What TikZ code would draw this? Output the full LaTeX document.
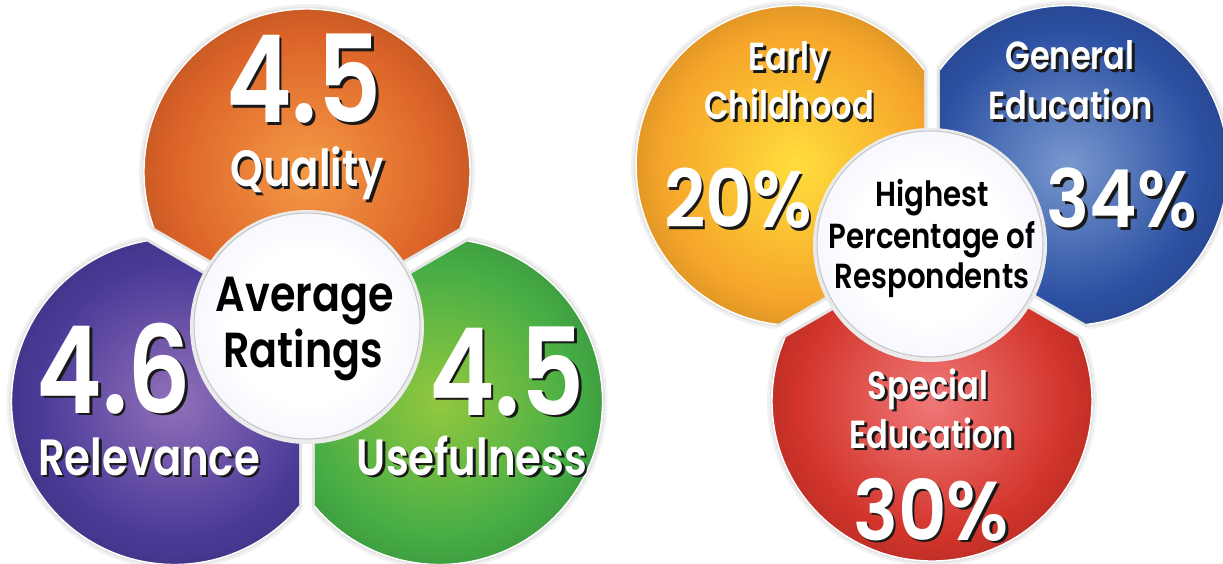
\documentclass[tikz,border=0pt]{standalone}
\usepackage{fontspec}
\setmainfont{Poppins}
\newfontfamily\wfont{Poppins SemiBold}[FakeStretch=0.82]
\newfontfamily\pfont{Poppins SemiBold}[FakeStretch=0.9]
\newfontfamily\kfont{Poppins SemiBold}[FakeStretch=0.84]
\usetikzlibrary{calc}
\definecolor{oro}{HTML}{DC6328}
\definecolor{ori}{HTML}{F59A46}
\definecolor{puo}{HTML}{4A3A97}
\definecolor{pui}{HTML}{9170BA}
\definecolor{gro}{HTML}{45AD45}
\definecolor{gri}{HTML}{93C83F}
\definecolor{yeo}{HTML}{F6A52A}
\definecolor{yei}{HTML}{FFDE3C}
\definecolor{blo}{HTML}{2C50A2}
\definecolor{bli}{HTML}{7898CF}
\definecolor{reo}{HTML}{D2342A}
\definecolor{rei}{HTML}{F07878}
\colorlet{pin}{white}
\colorlet{pout}{black}
\pgfdeclareradialshading[pin,pout]{petalshade}{\pgfpoint{0bp}{0bp}}{color(0bp)=(pin); color(21bp)=(pout); color(25bp)=(pout!92!black); color(50bp)=(pout!92!black)}
\pgfdeclareradialshading{hubshade}{\pgfpoint{0bp}{0bp}}{color(0bp)=(white); color(17bp)=(white); color(25bp)=(black!3!blue!3!white); color(50bp)=(black!3!blue!3!white)}
\newcommand\bigd{\wfont\fontsize{69}{69}\selectfont}
\newcommand\labf{\wfont\fontsize{29}{29}\selectfont}
\newcommand\rlab{\wfont\fontsize{22.3}{22.3}\selectfont}
\newcommand\pctf{\pfont\fontsize{45.5}{45.5}\selectfont}
\newcommand\pctb{\pfont\fontsize{47.5}{47.5}\selectfont}
\newcommand\hubf{\kfont\fontsize{28}{28}\selectfont}
\newcommand\hubs{\kfont\fontsize{19.8}{19.8}\selectfont}
% petal: #1 cluster centre, #2 direction, #3 distance, #4 radius, #5 inner, #6 outer
\newcommand\petal[6]{%
  \begin{scope}
    \clip ($(#1)+(#2:5.5)$) -- +(#2-60:800) -- +(#2+60:800) -- cycle;
    \fill[black!5] ($(#1)+(#2:#3)$) circle[radius=#4+5];
    \fill[black!10] ($(#1)+(#2:#3)$) circle[radius=#4+2.5];
  \end{scope}
  \begin{scope}
    \clip ($(#1)+(#2:9)$) -- +(#2-60:800) -- +(#2+60:800) -- cycle;
    \colorlet{pin}{#5}\colorlet{pout}{#6}%
    \shadedraw[shading=petalshade, draw=white, line width=0.8pt] ($(#1)+(#2:#3)$) circle[radius=#4];
  \end{scope}}
\newcommand\wtext[4]{%
  \node[shadowtxt] at (#2+2.6,#3+2.6) {#4};
  \node[whitetxt] (#1) at (#2,#3) {#4};}
\tikzset{
  whitetxt/.style={text=white, inner sep=0pt, anchor=base},
  shadowtxt/.style={text=black!90, inner sep=0pt, anchor=base},
  blacktxt/.style={text=black, inner sep=0pt, anchor=base},
  hub/.style={circle, minimum size=4.52cm, inner sep=0pt, shading=hubshade, draw=black!22, line width=0.6pt},
}
\begin{document}
\begin{tikzpicture}[x=0.02cm, y=-0.02cm]
\useasboundingbox (0,0) rectangle (1223,564);
\fill[white] (0,0) rectangle (1223,564);
\coordinate (LC) at (307,325);
\coordinate (RC) at (932,244);
% left cluster
\petal{LC}{270}{153}{163}{ori}{oro}
\petal{LC}{150}{153}{163}{pui}{puo}
\petal{LC}{30}{153}{163}{gri}{gro}
% right cluster
\petal{RC}{210}{157}{160}{yei}{yeo}
\petal{RC}{330}{157}{160}{bli}{blo}
\petal{RC}{90}{157}{160}{rei}{reo}
% hubs
\fill[black!8] (307,327) circle[radius=117];
\node[hub] (hubL) at (307,326) {};
\fill[black!8] (930,245) circle[radius=117];
\node[hub] (hubR) at (930,244) {};
% left texts
\wtext{qn}{304}{123}{\bigd 4.5}
\wtext{ql}{307}{187}{\labf Quality}
\wtext{rn}{114}{413}{\bigd 4.6}
\wtext{rl}{149}{475}{\labf Relevance}
\wtext{un}{507}{415}{\bigd 4.5}
\wtext{ul}{472}{475}{\labf Usefulness}
\node[blacktxt] (avg) at (305,311) {\hubf Average};
\node[blacktxt] (rat) at (303,367) {\hubf Ratings};
% right texts
\wtext{ea}{789}{71}{\rlab Early}
\wtext{ch}{789}{120}{\rlab Childhood}
\wtext{ep}{738}{228}{\pctf 20\%}
\wtext{ge}{1070}{70}{\rlab General}
\wtext{ged}{1071}{120}{\rlab Education}
\wtext{gp}{1122}{228}{\pctf 34\%}
\wtext{sp}{928}{399}{\rlab Special}
\wtext{sed}{932}{448}{\rlab Education}
\wtext{spp}{931}{540}{\pctb 30\%}
\node[blacktxt] (hi) at (932,207) {\hubs Highest};
\node[blacktxt] (pe) at (932,248) {\hubs Percentage of};
\node[blacktxt] (re) at (932,288) {\hubs Respondents};
\end{tikzpicture}
\end{document}
